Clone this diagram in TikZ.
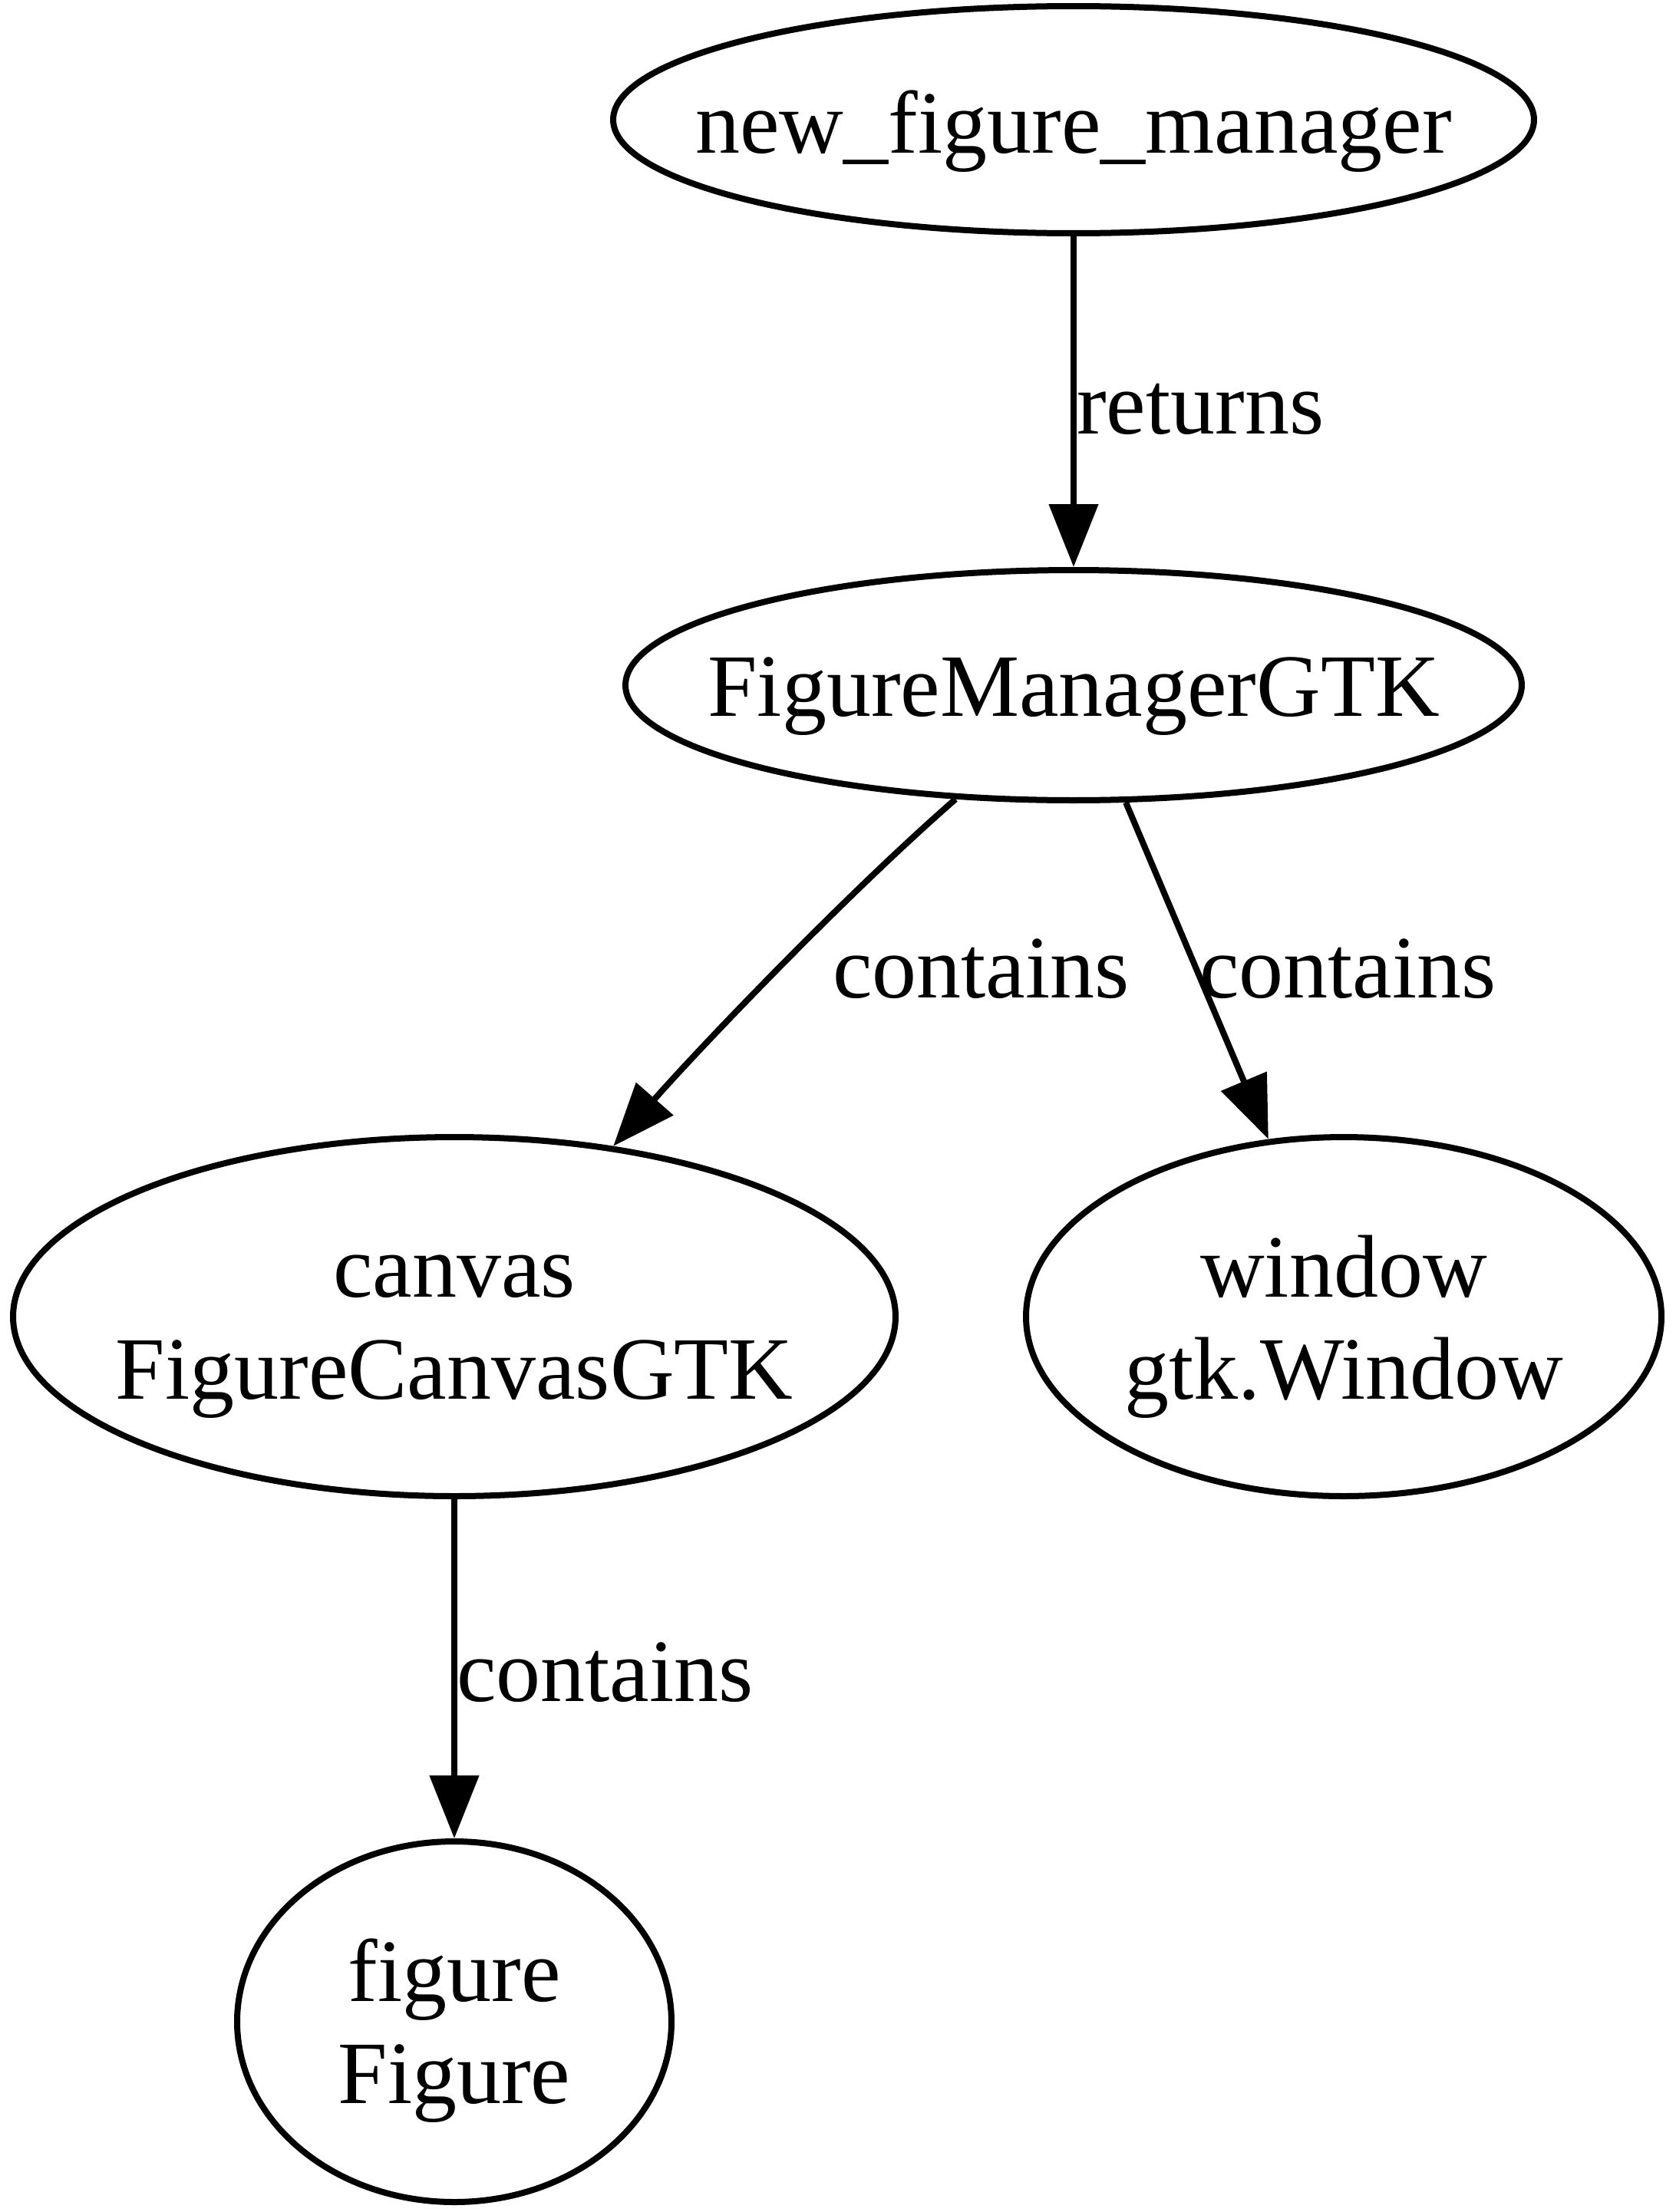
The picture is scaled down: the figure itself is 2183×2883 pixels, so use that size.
\documentclass[tikz,border=0pt]{standalone}
\usepackage{fontspec}
\setmainfont{Liberation Serif}
\usetikzlibrary{shapes.geometric,arrows.meta}
\begin{document}
\begin{tikzpicture}[x=0.1pt,y=-0.1pt,
  every node/.style={font=\fontsize{11.6pt}{13.3pt}\selectfont},
  gnode/.style={ellipse, draw, line width=0.8pt, inner sep=0pt},
  gedge/.style={line width=0.8pt, -{Triangle[length=8.2pt,width=6.3pt]}},
  elabel/.style={inner sep=0pt, anchor=base west}]
\useasboundingbox (0,0) rectangle (2183,2883);
% nodes
\node[gnode, minimum width=120pt, minimum height=29.6pt, text height=9pt, text depth=0.2pt]
  (A) at (1399,156) {\makebox[0pt]{new\_figure\_manager}};
\node[gnode, minimum width=116.8pt, minimum height=30pt, text height=8.5pt, text depth=0.5pt]
  (B) at (1399,893) {\makebox[0pt]{FigureManagerGTK}};
\node[gnode, minimum width=115pt, minimum height=46.8pt, text height=4pt, text depth=9.2pt]
  (C) at (592,1716) {\makebox[0pt]{\begin{tabular}[t]{@{}c@{}}canvas\\FigureCanvasGTK\end{tabular}}};
\node[gnode, minimum width=82.8pt, minimum height=46.8pt, text height=4pt, text depth=9.2pt]
  (D) at (1751,1716) {\makebox[0pt]{\begin{tabular}[t]{@{}c@{}}window\\gtk.Window\end{tabular}}};
\node[gnode, minimum width=56.6pt, minimum height=47pt, text height=4pt, text depth=9.4pt]
  (E) at (592,2635) {\makebox[0pt]{\begin{tabular}[t]{@{}c@{}}figure\\Figure\end{tabular}}};
% edges
\draw[gedge] (A.south) -- (B.north);
\draw[gedge] (B.224) .. controls (1100,1168) and (906,1372) .. (C.47.5);
\draw[gedge] (B.294.2) -- (D.113.4);
\draw[gedge] (C.south) -- (E.north);
% edge labels
\node[elabel] (L1) at (1401,565) {returns};
\node[elabel] (L2) at (1083,1300) {contains};
\node[elabel] (L3) at (1561,1300) {contains};
\node[elabel] (L4) at (593,2217) {contains};
\end{tikzpicture}
\end{document}
